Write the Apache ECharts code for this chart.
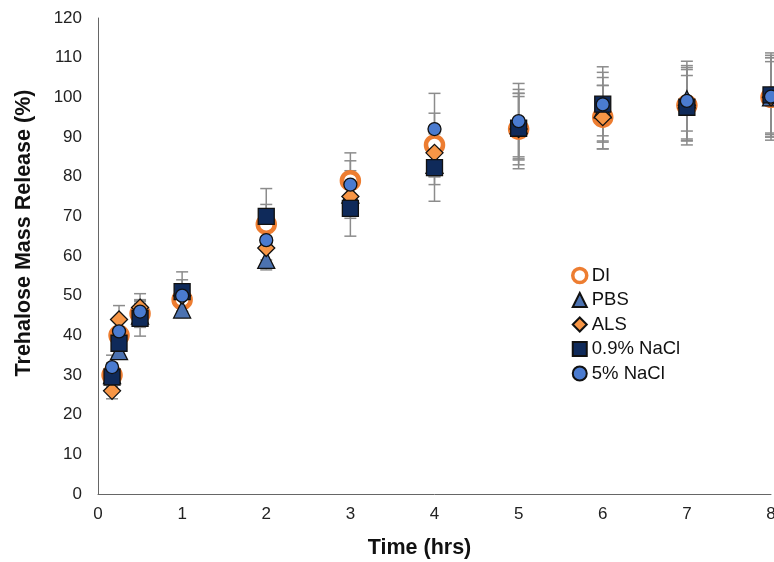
<!DOCTYPE html>
<html><head><meta charset="utf-8">
<script src="https://cdn.jsdelivr.net/npm/echarts@6/dist/echarts.min.js"></script>
<style>html,body{margin:0;padding:0;background:#fff}#c{width:774px;height:562px}</style>
</head><body><div id="c"></div>
<script>
const times = [0.167, 0.25, 0.5, 1, 2, 3, 4, 5, 6, 7, 8];
const seriesNames = ['DI', 'PBS', 'ALS', '0.9% NaCl', '5% NaCl'];
const DI      = [30, 40, 45.5, 49, 68, 79, 88, 92, 95, 98, 100];
const PBS     = [30, 36, 45, 46.5, 59, 75.5, 83, 93, 97, 99.5, 100];
const ALS     = [26, 44, 47, 50, 62, 75, 86, 92, 95, 98, 100];
const NaCl09  = [29.5, 38, 44.3, 51, 70, 72, 82.3, 92.2, 98.3, 97.5, 100.6];
const NaCl5   = [32, 41, 46, 50, 64, 78, 92, 94, 98.2, 99.1, 100.2];
const errDI     = [3, 2, 3, 3, 5, 7, 8, 10, 8, 10, 10];
const errPBS    = [3, 2, 3, 2, 2.5, 6, 5, 8, 8, 8, 9];
const errALS    = [2, 3.5, 3.5, 3, 4, 5, 6, 9, 8, 9, 10];
const errNaCl09 = [3, 3, 4.5, 5, 7, 7, 8.5, 8, 8, 8, 10];
const errNaCl5  = [3, 2.5, 3, 4, 5, 6, 9, 9.5, 9.5, 10, 11];
const yTicks = [0, 120, 10];
const xTicks = [0, 8, 1];

const values = [DI, PBS, ALS, NaCl09, NaCl5];
const errors = [errDI, errPBS, errALS, errNaCl09, errNaCl5];
const styles = [
  {symbol: 'circle', size: 17, item: {color: '#ffffff', borderColor: '#ED7D31', borderWidth: 4.5, opacity: 1}},
  {symbol: 'triangle', size: 17, item: {color: '#4C72B0', borderColor: '#111', borderWidth: 1.3, opacity: 1}},
  {symbol: 'diamond', size: 17, item: {color: '#F79646', borderColor: '#111', borderWidth: 1.3, opacity: 1}},
  {symbol: 'rect', size: 16, item: {color: '#0F2A5A', borderColor: '#111', borderWidth: 1.3, opacity: 1}},
  {symbol: 'circle', size: 13, item: {color: '#4A7BD0', borderColor: '#111', borderWidth: 1.3, opacity: 1}}
];

const series = [];
values.forEach((vals, si) => {
  series.push({
    type: 'custom',
    name: seriesNames[si] + ' err',
    z: 1,
    silent: true,
    data: times.map((t, i) => [t, vals[i] - errors[si][i], vals[i] + errors[si][i]]),
    renderItem: function (params, api) {
      const lo = api.coord([api.value(0), api.value(1)]);
      const hi = api.coord([api.value(0), api.value(2)]);
      const hw = 6;
      const st = {stroke: '#8C8C8C', lineWidth: 1.5};
      return {type: 'group', children: [
        {type: 'line', shape: {x1: lo[0], y1: lo[1], x2: hi[0], y2: hi[1]}, style: st},
        {type: 'line', shape: {x1: lo[0]-hw, y1: lo[1], x2: lo[0]+hw, y2: lo[1]}, style: st},
        {type: 'line', shape: {x1: hi[0]-hw, y1: hi[1], x2: hi[0]+hw, y2: hi[1]}, style: st}
      ]};
    }
  });
});
values.forEach((vals, si) => {
  series.push({
    type: 'scatter',
    name: seriesNames[si],
    z: 2 + si,
    symbol: styles[si].symbol,
    symbolSize: styles[si].size,
    itemStyle: styles[si].item,
    data: times.map((t, i) => [t, vals[i]])
  });
});

const chart = echarts.init(document.getElementById('c'));
chart.setOption({
  animation: false,
  textStyle: {fontFamily: 'Liberation Sans, Arial, sans-serif'},
  grid: {left: 98, top: 18, right: 3, bottom: 68, containLabel: false, outerBoundsMode: 'none'},
  legend: {
    data: seriesNames.map((n, i) => i === 0 ? {name: n, itemStyle: {borderWidth: 3.5}} : {name: n}),
    orient: 'vertical',
    left: 566,
    top: 261,
    itemWidth: 14,
    itemHeight: 14,
    itemGap: 5.5,
    textStyle: {fontSize: 18.5, color: '#111', fontFamily: 'Liberation Sans, Arial, sans-serif'}
  },
  xAxis: {
    type: 'value', min: xTicks[0], max: xTicks[1], interval: xTicks[2],
    name: 'Time (hrs)', nameLocation: 'middle', nameGap: 43,
    nameTextStyle: {fontSize: 21.5, fontWeight: 'bold', color: '#111', padding: [0, 30, 0, 0]},
    axisLine: {lineStyle: {color: '#666', width: 1}},
    axisTick: {show: false},
    splitLine: {show: false},
    axisLabel: {fontSize: 17, color: '#222', margin: 12}
  },
  yAxis: {
    type: 'value', min: yTicks[0], max: yTicks[1], interval: yTicks[2],
    name: 'Trehalose Mass Release (%)', nameLocation: 'middle', nameGap: 63,
    nameTextStyle: {fontSize: 21.5, fontWeight: 'bold', color: '#111', padding: [0, 0, 0, 46]},
    axisLine: {show: true, lineStyle: {color: '#666', width: 1}},
    axisTick: {show: false},
    splitLine: {show: false},
    axisLabel: {fontSize: 17, color: '#222', margin: 16}
  },
  series: series
});
</script></body></html>
